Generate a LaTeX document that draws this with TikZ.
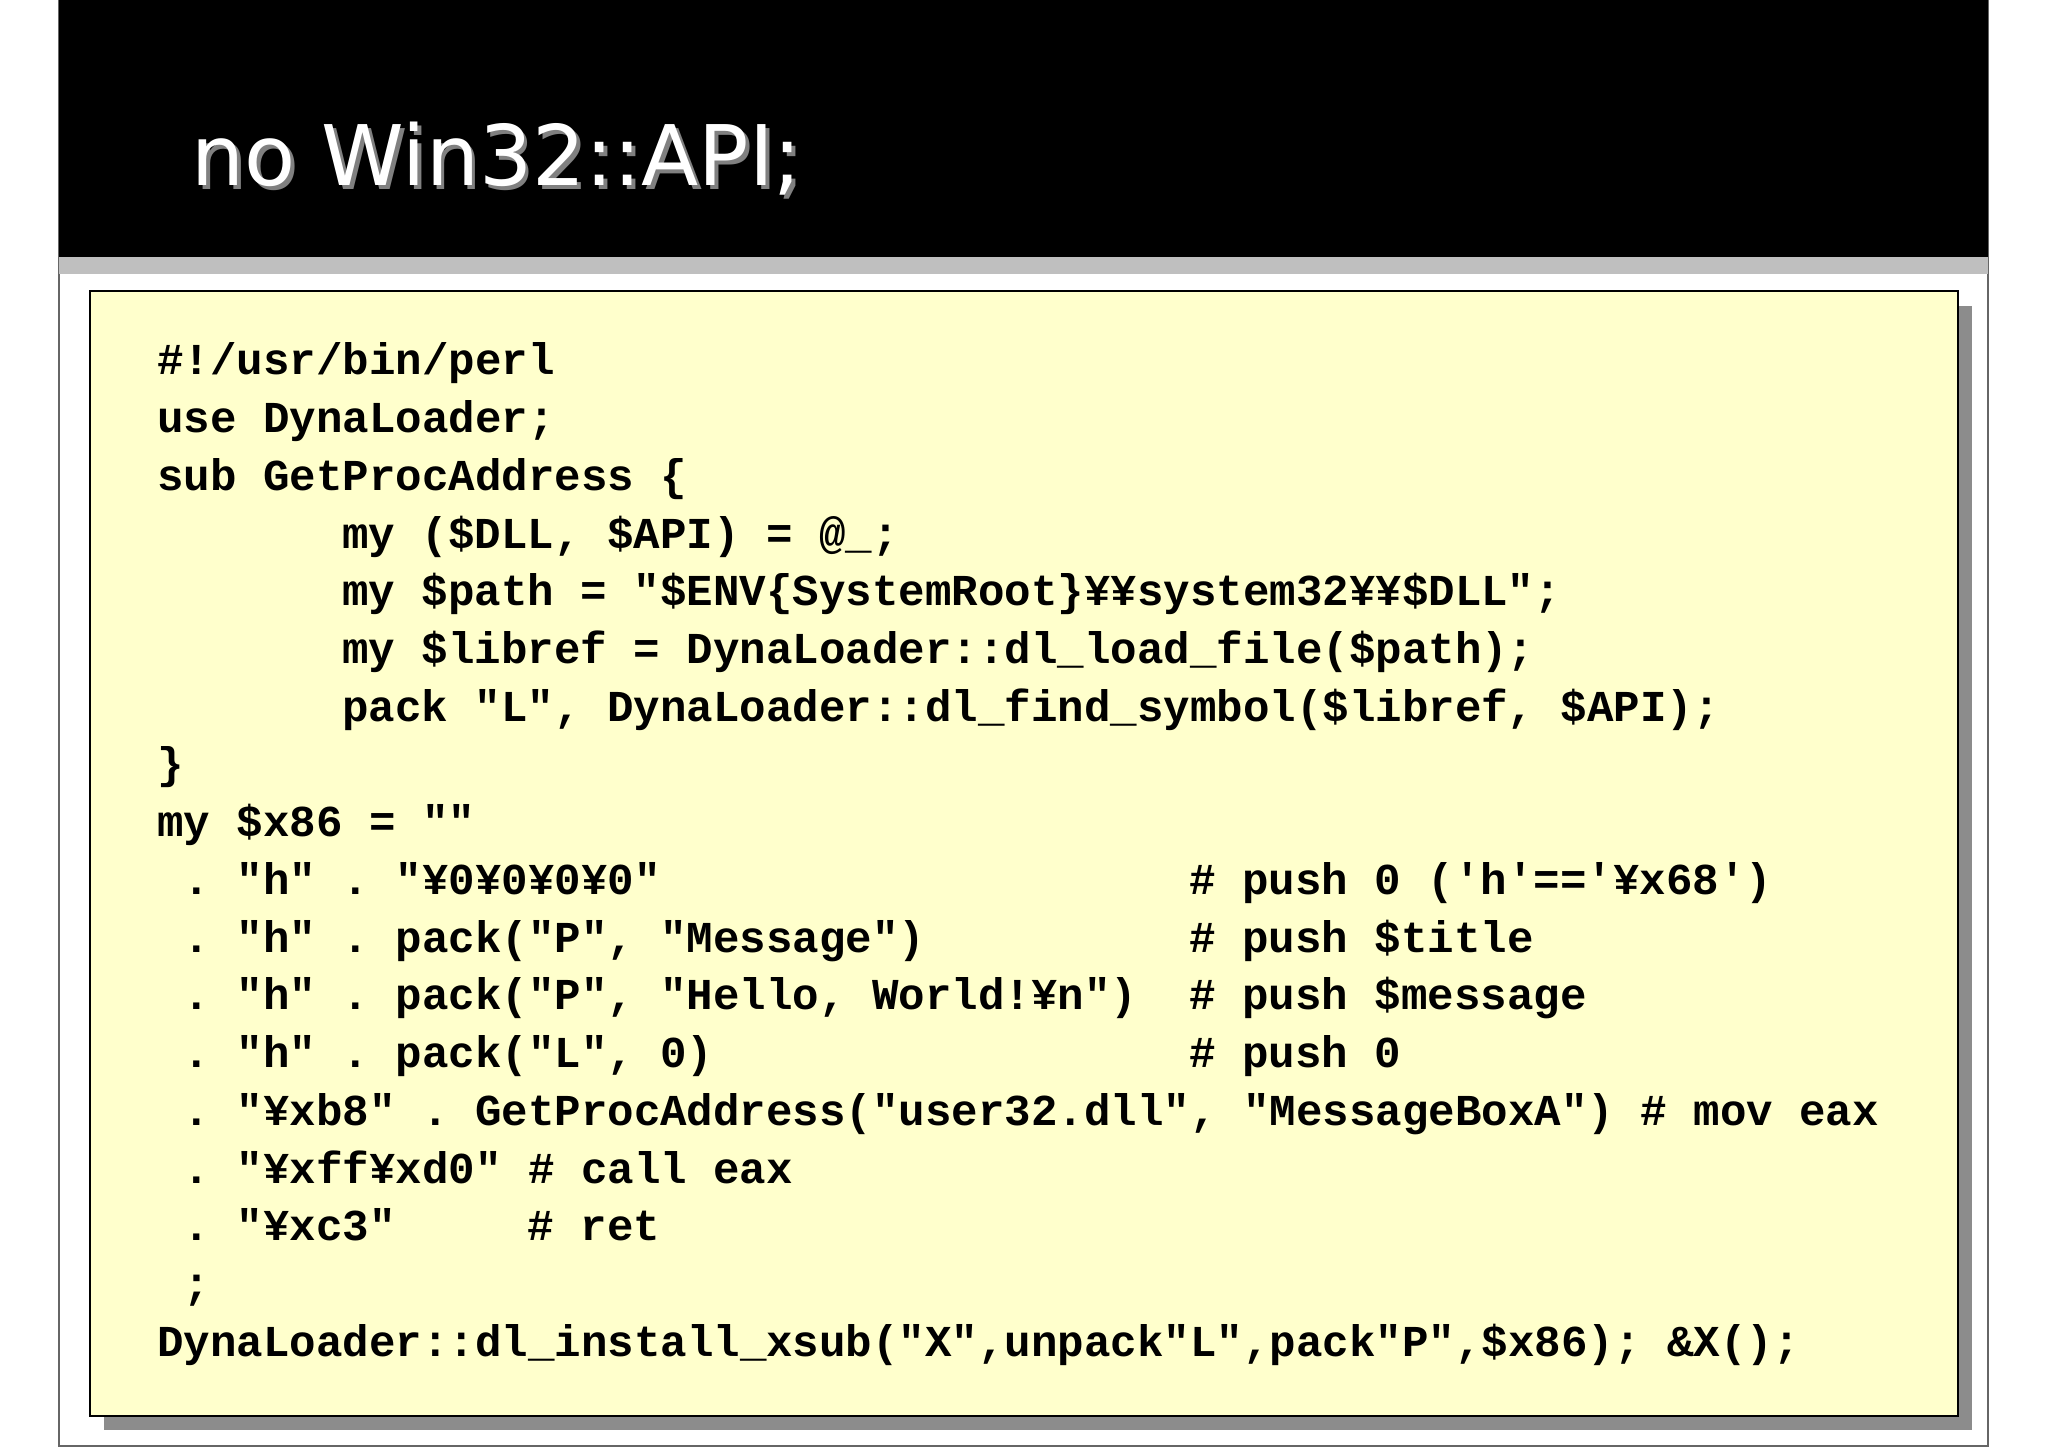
\documentclass[tikz,border=0pt]{standalone}
\usepackage{fontspec}
\setmainfont{DejaVu Sans}
\setmonofont{Liberation Mono}
\begin{document}
\begin{tikzpicture}[x=0.5pt,y=-0.5pt,
  code/.style={anchor=base west,inner sep=0pt,font=\fontsize{16.9}{18}\selectfont\ttfamily\bfseries}]
\useasboundingbox (0,0) rectangle (1568,1108.6);
\fill[white] (0,0) rectangle (1568,1108.6);
\draw[black!60,line width=0.6pt] (45,-2) rectangle (1522,1107);
\fill[black] (45,0) rectangle (1522,197);
\fill[black!25] (45,197) rectangle (1522,210);
\node[anchor=base west,inner sep=0pt,text=black!50,font=\fontsize{32}{36}\selectfont] at (149,145) {no Win32::API;};
\node (title) [anchor=base west,inner sep=0pt,text=white,font=\fontsize{32}{36}\selectfont] at (146,142) {no Win32::API;};
\fill[black!45] (80,234) rectangle (1510,1095);
\node (box) [draw=black,line width=0.8pt,fill={rgb,255:red,255;green,255;blue,204},inner sep=0pt,minimum width=715pt,minimum height=430.5pt,anchor=north west] at (68,222) {};
\def\cw{20.26}
\newcommand\cl[3]{\node[code] at ({120+#2*\cw},{287+44.2*#1}) {#3};}
\cl{0}{0}{\#!/usr/bin/perl}
\cl{1}{0}{use DynaLoader;}
\cl{2}{0}{sub GetProcAddress \{}
\cl{3}{7}{my (\$DLL, \$API) = @\_;}
\cl{4}{7}{my \$path = "\$ENV\{SystemRoot\}¥¥system32¥¥\$DLL";}
\cl{5}{7}{my \$libref = DynaLoader::dl\_load\_file(\$path);}
\cl{6}{7}{pack "L", DynaLoader::dl\_find\_symbol(\$libref, \$API);}
\cl{7}{0}{\}}
\cl{8}{0}{my \$x86 = ""}
\cl{9}{1}{. "h" . "¥0¥0¥0¥0"}
\cl{9}{39}{\# push 0 ('h'=='¥x68')}
\cl{10}{1}{. "h" . pack("P", "Message")}
\cl{10}{39}{\# push \$title}
\cl{11}{1}{. "h" . pack("P", "Hello, World!¥n")}
\cl{11}{39}{\# push \$message}
\cl{12}{1}{. "h" . pack("L", 0)}
\cl{12}{39}{\# push 0}
\cl{13}{1}{. "¥xb8" . GetProcAddress("user32.dll", "MessageBoxA") \# mov eax}
\cl{14}{1}{. "¥xff¥xd0" \# call eax}
\cl{15}{1}{. "¥xc3"}
\cl{15}{14}{\# ret}
\cl{16}{1}{;}
\cl{17}{0}{DynaLoader::dl\_install\_xsub("X",unpack"L",pack"P",\$x86); \&X();}
\end{tikzpicture}
\end{document}
